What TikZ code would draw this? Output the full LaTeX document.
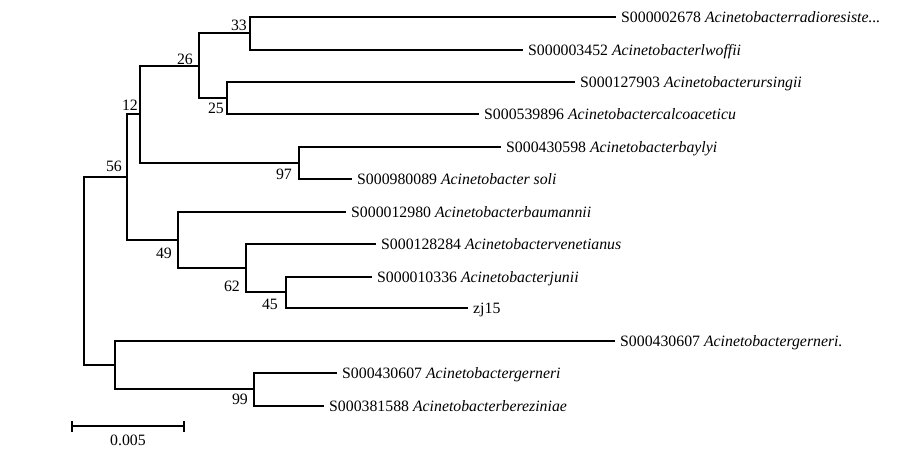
\documentclass[tikz,border=0pt]{standalone}
\usepackage{fontspec}
\setmainfont{Liberation Serif}
\begin{document}
\begin{tikzpicture}[x=1pt,y=-1pt,
  br/.style={line width=1.6pt},
  leaf/.style={anchor=west,inner xsep=5pt,inner ysep=0pt,text height=11pt,text depth=0pt,font=\fontsize{15.8}{18}\selectfont},
  boot/.style={anchor=east,inner sep=0pt,font=\fontsize{15.8}{18}\selectfont}]
\useasboundingbox (0,0) rectangle (913,462);
% internal nodes
\coordinate (n33) at (250,33);
\coordinate (n25) at (227,98);
\coordinate (n26) at (199,66);
\coordinate (n97) at (299,163);
\coordinate (n12) at (140,114);
\coordinate (n45) at (286,292);
\coordinate (n62) at (246,268);
\coordinate (n49) at (178,240);
\coordinate (n56) at (127,177);
\coordinate (n99) at (254,389);
\coordinate (nG) at (115,365);
\coordinate (root) at (84,271);
% leaves
\node[leaf] (l1) at (616,17) {S000002678 \textit{Acinetobacterradioresiste...}};
\node[leaf] (l2) at (523,50) {S000003452 \textit{Acinetobacterlwoffii}};
\node[leaf] (l3) at (575,82) {S000127903 \textit{Acinetobacterursingii}};
\node[leaf] (l4) at (479,114) {S000539896 \textit{Acinetobactercalcoaceticu}};
\node[leaf] (l5) at (501,147) {S000430598 \textit{Acinetobacterbaylyi}};
\node[leaf] (l6) at (352,179) {S000980089 \textit{Acinetobacter soli}};
\node[leaf] (l7) at (346,212) {S000012980 \textit{Acinetobacterbaumannii}};
\node[leaf] (l8) at (376,244) {S000128284 \textit{Acinetobactervenetianus}};
\node[leaf] (l9) at (372,277) {S000010336 \textit{Acinetobacterjunii}};
\node[leaf] (l10) at (468,308) {zj15};
\node[leaf] (l11) at (615,341) {S000430607 \textit{Acinetobactergerneri.}};
\node[leaf] (l12) at (337,373) {S000430607 \textit{Acinetobactergerneri}};
\node[leaf] (l13) at (324,406) {S000381588 \textit{Acinetobacterbereziniae}};
% branches
\draw[br] (n33) |- (l1.west);
\draw[br] (n33) |- (l2.west);
\draw[br] (n25) |- (l3.west);
\draw[br] (n25) |- (l4.west);
\draw[br] (n26) |- (n33);
\draw[br] (n26) |- (n25);
\draw[br] (n97) |- (l5.west);
\draw[br] (n97) |- (l6.west);
\draw[br] (n12) |- (n26);
\draw[br] (n12) |- (n97);
\draw[br] (n45) |- (l9.west);
\draw[br] (n45) |- (l10.west);
\draw[br] (n62) |- (l8.west);
\draw[br] (n62) |- (n45);
\draw[br] (n49) |- (l7.west);
\draw[br] (n49) |- (n62);
\draw[br] (n56) |- (n12);
\draw[br] (n56) |- (n49);
\draw[br] (n99) |- (l12.west);
\draw[br] (n99) |- (l13.west);
\draw[br] (nG) |- (l11.west);
\draw[br] (nG) |- (n99);
\draw[br] (root) |- (n56);
\draw[br] (root) |- (nG);
% bootstrap values
\node[boot] (b33) at (247,25) {33};
\node[boot] (b26) at (193,59) {26};
\node[boot] (b12) at (138,105) {12};
\node[boot] (b56) at (122,166) {56};
\node[boot] (b25) at (224,108) {25};
\node[boot] (b97) at (292,174) {97};
\node[boot] (b49) at (172,253) {49};
\node[boot] (b62) at (240,286) {62};
\node[boot] (b45) at (278,304) {45};
\node[boot] (b99) at (248,399) {99};
% scale bar
\coordinate (sbL) at (72,426);
\coordinate (sbR) at (184,426);
\draw[br] (sbL) -- (sbR);
\draw[br] ([yshift=-6pt]sbL) -- ([yshift=5pt]sbL);
\draw[br] ([yshift=-6pt]sbR) -- ([yshift=5pt]sbR);
\node[boot,anchor=center] (sblab) at (128,440) {0.005};
\end{tikzpicture}
\end{document}
